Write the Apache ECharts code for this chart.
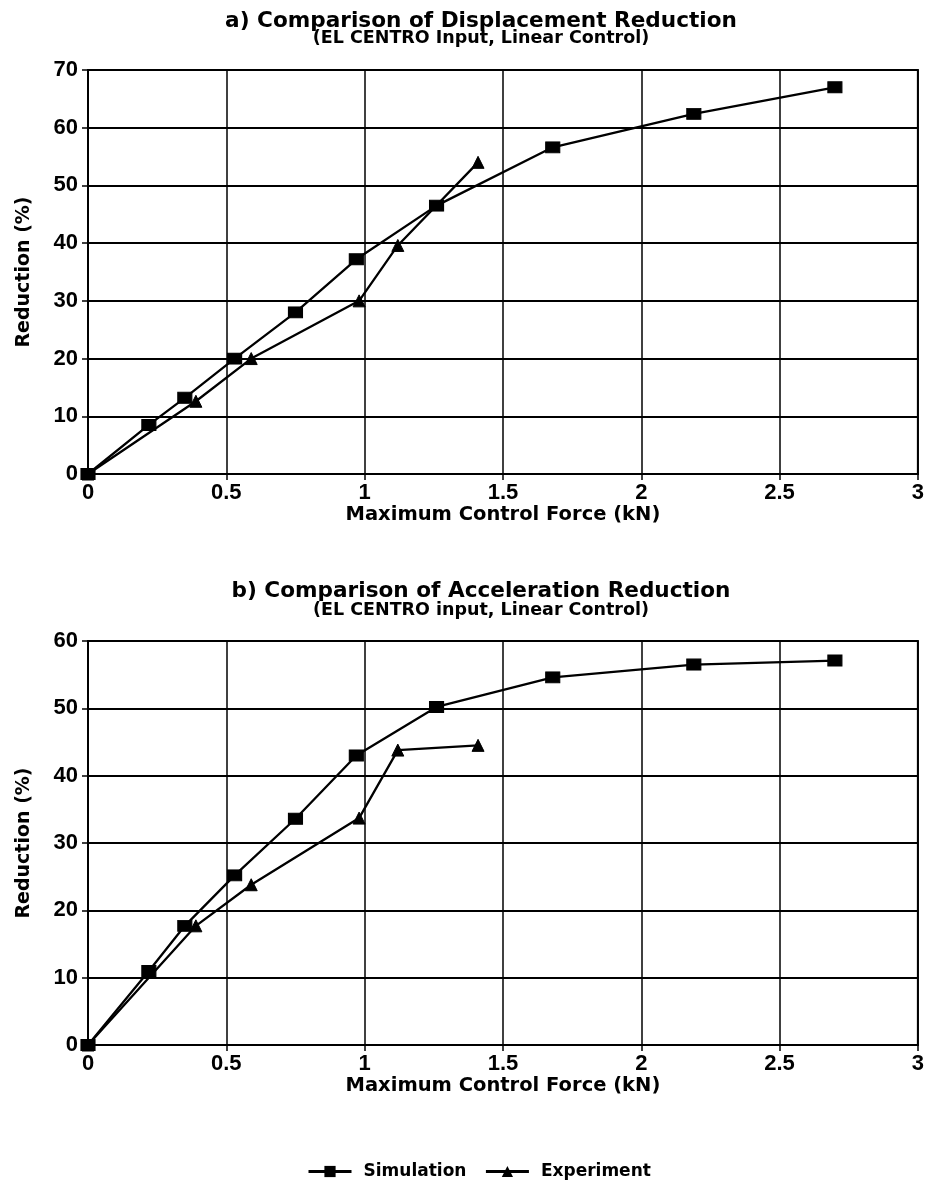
<!DOCTYPE html>
<html>
<head>
<meta charset="utf-8">
<script src="https://cdn.jsdelivr.net/npm/echarts@6/dist/echarts.min.js"></script>
<style>
  html, body { margin: 0; padding: 0; background: #fff; }
  #chart { width: 927px; height: 1189px; }
</style>
</head>
<body>
<div id="chart"></div>
<script>
// Maximum control force (kN) for each run
const forceSimulation = [0, 0.22, 0.35, 0.53, 0.75, 0.97, 1.26, 1.68, 2.19, 2.7];
const forceExperiment = [0, 0.39, 0.59, 0.98, 1.12, 1.41];

// a) displacement reduction (%)
const dispSimulation = [0, 8.5, 13.2, 20, 28, 37.2, 46.5, 56.6, 62.4, 67];
const dispExperiment = [0, 12.6, 20, 30, 39.6, 54];

// b) acceleration reduction (%)
const accSimulation = [0, 11, 17.7, 25.2, 33.6, 43, 50.2, 54.6, 56.5, 57.1];
const accExperiment = [0, 17.7, 23.8, 33.7, 43.8, 44.5];

const seriesNames = ['Simulation', 'Experiment'];
const panelTitles = ['a) Comparison of Displacement Reduction', 'b) Comparison of Acceleration Reduction'];
const panelSubtitles = ['(EL CENTRO Input, Linear Control)', '(EL CENTRO input, Linear Control)'];
const xAxisTitle = 'Maximum Control Force (kN)';
const yAxisTitle = 'Reduction (%)';
const yMax = [70, 60];

const pairs = (xs, ys) => xs.map((x, i) => [x, ys[i]]);

const WIDE = 'DejaVu Sans';
const NUM = 'Liberation Sans';
const INK = '#000';

const grids = [
  { left: 88, top: 70, width: 832, height: 404 },
  { left: 88, top: 641, width: 832, height: 404 }
];

function xAxisFor(i) {
  return {
    type: 'value', gridIndex: i, min: 0, max: 3, interval: 0.5,
    name: xAxisTitle, nameLocation: 'middle', nameGap: 31,
    nameTextStyle: { fontFamily: WIDE, fontWeight: 'bold', fontSize: 19.5, color: INK },
    axisLine: { show: true, onZero: false, lineStyle: { color: INK, width: 2 } },
    axisTick: { show: true, inside: false, length: 6, lineStyle: { color: INK, width: 1.5 } },
    axisLabel: { margin: 8, fontFamily: NUM, fontWeight: 'bold', fontSize: 22, color: INK },
    splitLine: { show: true, lineStyle: { color: INK, width: 1.5 } }
  };
}

function yAxisFor(i) {
  return {
    type: 'value', gridIndex: i, min: 0, max: yMax[i], interval: 10,
    name: yAxisTitle, nameLocation: 'middle', nameGap: 54,
    nameTextStyle: { fontFamily: WIDE, fontWeight: 'bold', fontSize: 19, color: INK },
    axisLine: { show: true, lineStyle: { color: INK, width: 2 } },
    axisTick: { show: true, inside: false, length: 6, lineStyle: { color: INK, width: 1.5 } },
    axisLabel: { margin: 10, fontFamily: NUM, fontWeight: 'bold', fontSize: 22, color: INK },
    splitLine: { show: true, lineStyle: { color: INK, width: 2 } }
  };
}

function lineSeries(name, i, xs, ys, symbol, size) {
  return {
    name: name, type: 'line', xAxisIndex: i, yAxisIndex: i,
    data: pairs(xs, ys),
    symbol: symbol, symbolSize: size,
    showAllSymbol: true,
    lineStyle: { color: INK, width: 2.3 },
    itemStyle: { color: INK, borderColor: INK },
    emphasis: { disabled: true },
    animation: false, z: 3
  };
}

// Panel headings placed as centered text above each plot
const headingX = 481;
const headings = [];
[[21, 38.5], [591, 610]].forEach((ys, i) => {
  headings.push({
    type: 'text', x: headingX, y: ys[0],
    style: { text: panelTitles[i], fill: INK, font: 'bold 21.6px "DejaVu Sans"', textAlign: 'center', textVerticalAlign: 'middle' }
  });
  headings.push({
    type: 'text', x: headingX, y: ys[1],
    style: { text: panelSubtitles[i], fill: INK, font: 'bold 17.5px "DejaVu Sans"', textAlign: 'center', textVerticalAlign: 'middle' }
  });
});

const option = {
  backgroundColor: '#fff',
  animation: false,
  graphic: headings,
  grid: grids.map(g => Object.assign({ show: true, borderColor: INK, borderWidth: 2, backgroundColor: 'transparent' }, g)),
  xAxis: [xAxisFor(0), xAxisFor(1)],
  yAxis: [yAxisFor(0), yAxisFor(1)],
  legend: {
    data: seriesNames,
    left: 307, top: 1163, padding: 0,
    itemWidth: 43, itemHeight: 14, itemGap: 18,
    lineStyle: { width: 3 },
    textStyle: { fontFamily: WIDE, fontWeight: 'bold', fontSize: 17, color: INK, padding: [0, 0, 0, 7] },
    selectedMode: false
  },
  series: [
    lineSeries(seriesNames[0], 0, forceSimulation, dispSimulation, 'rect', [14, 11]),
    lineSeries(seriesNames[1], 0, forceExperiment, dispExperiment, 'triangle', 12),
    lineSeries(seriesNames[0], 1, forceSimulation, accSimulation, 'rect', [14, 11]),
    lineSeries(seriesNames[1], 1, forceExperiment, accExperiment, 'triangle', 12)
  ]
};

const chart = echarts.init(document.getElementById('chart'), null, { renderer: 'canvas' });
chart.setOption(option);
</script>
</body>
</html>
